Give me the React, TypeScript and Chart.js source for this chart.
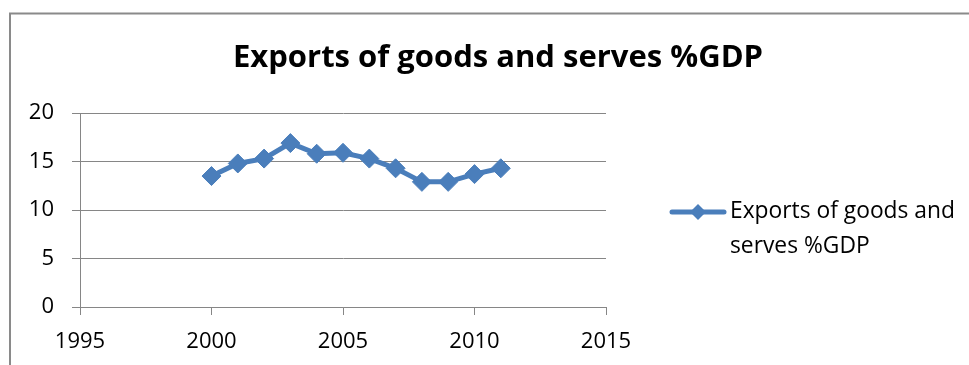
import React, { useEffect, useRef } from "react";
import { Chart, registerables } from "chart.js";

Chart.register(...registerables);

// ---- data ----
const years = [2000, 2001, 2002, 2003, 2004, 2005, 2006, 2007, 2008, 2009, 2010, 2011];
const exportsPct = [13.5, 14.8, 15.3, 16.9, 15.8, 15.9, 15.3, 14.3, 12.9, 12.9, 13.7, 14.3];
const xTickValues = [1995, 2000, 2005, 2010, 2015];
const yTickValues = [0, 5, 10, 15, 20];
const chartTitle = "Exports of goods and serves %GDP";
const seriesName = "Exports of goods and serves %GDP";
const legendLines = ["Exports of goods and", "serves %GDP"];

const FONT = "'Open Sans', Lato, sans-serif";
const GRID = "#868686";
const BLUE = "#4A7EBB";

const decorPlugin = {
  id: "decor",
  beforeDraw(chart: any) {
    const ctx = chart.ctx;
    ctx.save();
    ctx.strokeStyle = "#8a8a8a";
    ctx.lineWidth = 2;
    ctx.strokeRect(10, 13.5, 1200, 600);
    ctx.restore();
  },
  afterDraw(chart: any) {
    const ctx = chart.ctx;
    ctx.save();
    // title
    ctx.fillStyle = "#000";
    ctx.font = `bold 31px ${FONT}`;
    ctx.textAlign = "center";
    ctx.textBaseline = "alphabetic";
    ctx.fillText(chartTitle, 498, 67);
    // legend
    const ly = 212;
    ctx.strokeStyle = BLUE;
    ctx.lineWidth = 5;
    ctx.lineCap = "round";
    ctx.beginPath();
    ctx.moveTo(672, ly);
    ctx.lineTo(724, ly);
    ctx.stroke();
    ctx.fillStyle = BLUE;
    ctx.beginPath();
    const cx = 698, r = 8;
    ctx.moveTo(cx - r, ly);
    ctx.lineTo(cx, ly - r);
    ctx.lineTo(cx + r, ly);
    ctx.lineTo(cx, ly + r);
    ctx.closePath();
    ctx.fill();
    ctx.fillStyle = "#000";
    ctx.font = `22.8px ${FONT}`;
    ctx.textAlign = "left";
    legendLines.forEach((t, i) => ctx.fillText(t, 730, 218 + i * 35));
    ctx.restore();
  },
};

export default function App() {
  const ref = useRef<HTMLCanvasElement | null>(null);
  useEffect(() => {
    if (!ref.current) return;
    const chart = new Chart(ref.current, {
      type: "scatter",
      data: {
        datasets: [
          {
            label: seriesName,
            data: years.map((y, i) => ({ x: y, y: exportsPct[i] })),
            showLine: true,
            borderColor: BLUE,
            borderWidth: 5,
            backgroundColor: BLUE,
            pointStyle: "rectRot",
            pointRadius: 9.5,
            pointBackgroundColor: BLUE,
            pointBorderColor: BLUE,
            pointBorderWidth: 1,
            tension: 0,
          },
        ],
      },
      options: {
        responsive: false,
        animation: false,
        devicePixelRatio: 1,
        layout: { padding: { left: 0, right: 363, top: 113, bottom: 0 } },
        plugins: { legend: { display: false }, tooltip: { enabled: false }, title: { display: false } },
        scales: {
          x: {
            type: "linear",
            position: "bottom",
            min: 1995,
            max: 2015,
            afterBuildTicks: (s: any) => {
              s.ticks = xTickValues.map((v) => ({ value: v }));
            },
            afterFit: (s: any) => {
              s.height = 58;
            },
            grid: { drawOnChartArea: false, drawTicks: true, tickLength: 8, color: GRID, lineWidth: 1 },
            border: { color: GRID, width: 1 },
            ticks: {
              color: "#000",
              font: { family: FONT, size: 22 },
              padding: 14,
              maxRotation: 0,
              autoSkip: false,
              callback: (v: any) => String(v),
            },
          },
          y: {
            type: "linear",
            position: "left",
            min: 0,
            max: 20,
            afterBuildTicks: (s: any) => {
              s.ticks = yTickValues.map((v) => ({ value: v }));
            },
            afterFit: (s: any) => {
              s.width = 80;
            },
            grid: { drawOnChartArea: true, drawTicks: true, tickLength: 8, color: GRID, lineWidth: 1 },
            border: { color: GRID, width: 1 },
            ticks: {
              color: "#000",
              font: { family: FONT, size: 22 },
              padding: 18,
              autoSkip: false,
              callback: (v: any) => String(v),
            },
          },
        },
      },
      plugins: [decorPlugin],
    });
    return () => chart.destroy();
  }, []);
  return (
    <div style={{ position: "absolute", left: 0, top: 0, width: 969, height: 365, background: "#fff" }}>
      <canvas ref={ref} width={969} height={365} style={{ width: 969, height: 365, display: "block" }} />
    </div>
  );
}
